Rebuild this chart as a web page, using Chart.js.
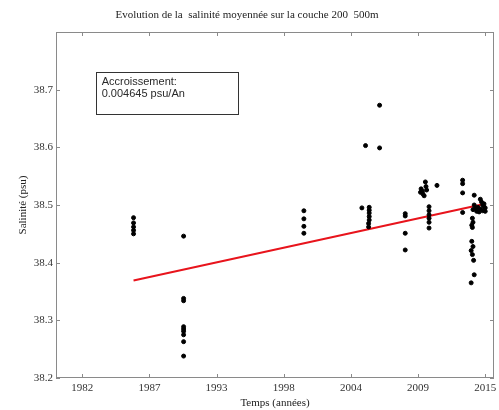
<!DOCTYPE html>
<html lang="fr">
<head>
    <meta charset="UTF-8">
    <title>Evolution de la salinité</title>
    <script src="https://cdn.jsdelivr.net/npm/chart.js"></script>
    <style>
        html, body { margin: 0; padding: 0; background: #fff; }
        .chart-container { position: relative; width: 499px; height: 410px; }
    </style>
</head>
<body>
    <div class="chart-container">
        <canvas id="salChart"></canvas>
    </div>

    <script>
        // tick positions (years) and the labels MATLAB printed for them
        const xTickValues = [1982, 1987.5, 1993, 1998.5, 2004, 2009.5, 2015];
        const xTickLabels = ['1982', '1987', '1993', '1998', '2004', '2009', '2015'];
        const yTickValues = [38.2, 38.3, 38.4, 38.5, 38.6, 38.7];

        // observations per campaign: [year, salinity]
        const obs1986 = [[1986.2, 38.478], [1986.2, 38.469], [1986.2, 38.462], [1986.2, 38.456], [1986.2, 38.450]];
        const obs1990 = [[1990.3, 38.446], [1990.3, 38.338], [1990.3, 38.334], [1990.3, 38.289], [1990.3, 38.285],
                         [1990.3, 38.281], [1990.3, 38.275], [1990.3, 38.263], [1990.3, 38.238]];
        const obs2000 = [[2000.15, 38.490], [2000.15, 38.476], [2000.15, 38.463], [2000.15, 38.451]];
        const obs2005 = [[2004.9, 38.495], [2005.2, 38.603], [2006.35, 38.673], [2006.35, 38.599],
                         [2005.5, 38.496], [2005.5, 38.491], [2005.5, 38.486], [2005.5, 38.480],
                         [2005.5, 38.474], [2005.45, 38.468], [2005.45, 38.462]];
        const obs2008 = [[2008.45, 38.485], [2008.45, 38.481], [2008.45, 38.451], [2008.45, 38.422]];
        const obs2010 = [[2010.1, 38.540], [2010.15, 38.532], [2009.75, 38.528], [2009.85, 38.524], [2009.7, 38.522],
                         [2009.9, 38.519], [2010.0, 38.516], [2010.2, 38.526], [2011.05, 38.534],
                         [2010.4, 38.497], [2010.4, 38.490], [2010.4, 38.483], [2010.4, 38.477], [2010.4, 38.470], [2010.4, 38.460]];
        const obs2014 = [[2013.15, 38.543], [2013.15, 38.537], [2013.15, 38.521], [2013.15, 38.487], [2014.1, 38.517],
                         [2014.6, 38.510], [2014.7, 38.505], [2014.8, 38.500], [2014.9, 38.497], [2015.0, 38.495],
                         [2014.4, 38.496], [2014.2, 38.494], [2014.0, 38.492], [2014.3, 38.489], [2014.5, 38.488],
                         [2014.8, 38.490], [2015.0, 38.489], [2014.6, 38.493], [2014.1, 38.500], [2014.9, 38.502],
                         [2013.95, 38.477], [2014.0, 38.470], [2013.9, 38.465], [2013.95, 38.461], [2013.9, 38.437],
                         [2014.0, 38.428], [2013.85, 38.421], [2013.95, 38.414], [2014.05, 38.404], [2014.1, 38.379],
                         [2013.85, 38.365]];

        // linear trend
        const trendLine = [[1986.2, 38.369], [2015.0, 38.502]];
        const trendText = ['Accroissement:', '0.004645 psu/An'];

        const allObs = [].concat(obs1986, obs1990, obs2000, obs2005, obs2008, obs2010, obs2014);
        const toXY = arr => arr.map(p => ({ x: p[0], y: p[1] }));

        const serif = 'Liberation Serif, Times New Roman, serif';
        const axisGray = '#8a8a8a';

        // box round the plot + MATLAB style inward ticks + annotation box
        const matlabFrame = {
            id: 'matlabFrame',
            afterDraw(chart) {
                const { ctx, chartArea: a, scales: { x, y } } = chart;
                ctx.save();
                ctx.strokeStyle = axisGray;
                ctx.lineWidth = 1;
                ctx.strokeRect(a.left + 0.5, a.top + 0.5, a.right - a.left - 1, a.bottom - a.top - 1);
                ctx.beginPath();
                xTickValues.forEach(v => {
                    const px = Math.round(x.getPixelForValue(v)) + 0.5;
                    ctx.moveTo(px, a.bottom); ctx.lineTo(px, a.bottom - 4);
                    ctx.moveTo(px, a.top); ctx.lineTo(px, a.top + 4);
                });
                yTickValues.forEach(v => {
                    const py = Math.round(y.getPixelForValue(v)) + 0.5;
                    ctx.moveTo(a.left, py); ctx.lineTo(a.left + 4, py);
                    ctx.moveTo(a.right, py); ctx.lineTo(a.right - 4, py);
                });
                ctx.stroke();

                // annotation box, anchored in data units
                const bx0 = x.getPixelForValue(1983.1), bx1 = x.getPixelForValue(1994.75);
                const by0 = y.getPixelForValue(38.7315), by1 = y.getPixelForValue(38.658);
                ctx.fillStyle = '#fff';
                ctx.fillRect(bx0, by0, bx1 - bx0, by1 - by0);
                ctx.strokeStyle = '#333';
                ctx.strokeRect(Math.round(bx0) + 0.5, Math.round(by0) + 0.5, Math.round(bx1 - bx0), Math.round(by1 - by0));
                ctx.fillStyle = '#2a2a2a';
                ctx.font = '11px Liberation Sans, Arial, sans-serif';
                ctx.textBaseline = 'alphabetic';
                trendText.forEach((t, i) => ctx.fillText(t, bx0 + 6, by0 + 13 + i * 12));
                ctx.restore();
            }
        };

        const ctx = document.getElementById('salChart').getContext('2d');
        new Chart(ctx, {
            type: 'scatter',
            data: {
                datasets: [
                    {
                        label: 'Mesures',
                        data: toXY(allObs),
                        backgroundColor: '#000',
                        borderColor: '#000',
                        pointRadius: 2,
                        pointHoverRadius: 2
                    },
                    {
                        type: 'line',
                        label: 'Tendance',
                        data: toXY(trendLine),
                        borderColor: '#e8141c',
                        borderWidth: 2,
                        pointRadius: 0,
                        fill: false
                    }
                ]
            },
            options: {
                responsive: true,
                maintainAspectRatio: false,
                animation: false,
                layout: { padding: { top: 0, right: 5, bottom: 0, left: 0 } },
                plugins: {
                    legend: { display: false },
                    tooltip: { enabled: false },
                    title: {
                        display: true,
                        text: 'Evolution de la  salinité moyennée sur la couche 200  500m',
                        color: '#222',
                        font: { family: serif, size: 11, weight: 'normal' },
                        padding: { top: 9, bottom: 9.8 }
                    }
                },
                scales: {
                    x: {
                        type: 'linear',
                        min: 1979.85,
                        max: 2015.72,
                        grid: { display: false, drawTicks: false },
                        border: { display: false },
                        afterBuildTicks: scale => { scale.ticks = xTickValues.map(v => ({ value: v })); },
                        afterFit: scale => {
                            scale.height = 32;
                            scale.paddingLeft = 0;
                            scale.paddingRight = 0;
                        },
                        ticks: {
                            autoSkip: false,
                            maxRotation: 0,
                            padding: 4,
                            color: '#333',
                            font: { family: serif, size: 11 },
                            callback: (v, i) => xTickLabels[i]
                        },
                        title: {
                            display: true,
                            text: 'Temps (années)',
                            color: '#222',
                            font: { family: serif, size: 11 },
                            padding: { top: 0, bottom: 0 }
                        }
                    },
                    y: {
                        min: 38.2,
                        max: 38.8,
                        grid: { display: false, drawTicks: false },
                        border: { display: false },
                        afterBuildTicks: scale => { scale.ticks = yTickValues.map(v => ({ value: v })); },
                        afterFit: scale => {
                            scale.width = 56;
                            scale.paddingTop = 0;
                            scale.paddingBottom = 0;
                        },
                        ticks: {
                            padding: 3,
                            color: '#333',
                            font: { family: serif, size: 11 },
                            callback: v => v.toFixed(1)
                        },
                        title: {
                            display: true,
                            text: 'Salinité (psu)',
                            color: '#222',
                            font: { family: serif, size: 11 },
                            padding: { top: 17, bottom: 0 }
                        }
                    }
                }
            },
            plugins: [matlabFrame]
        });
    </script>
</body>
</html>
